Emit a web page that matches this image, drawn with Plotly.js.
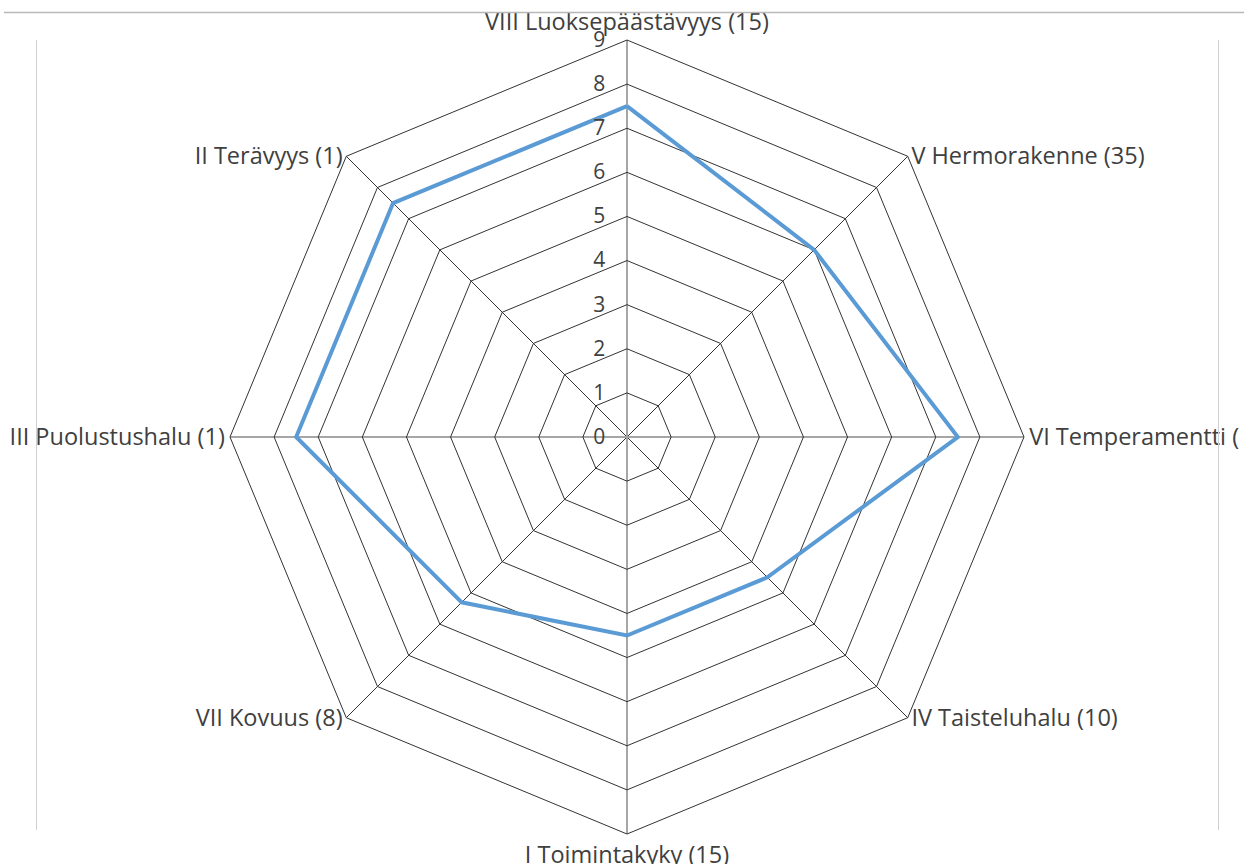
<!DOCTYPE html>
<html><head><meta charset="utf-8">
<script src="https://cdn.plot.ly/plotly-3.0.1.min.js"></script>
<style>html,body{margin:0;padding:0;background:#fff}#chart{width:1244px;height:864px}</style>
</head><body><div id="chart"></div>
<script>
// Categories in clockwise order starting from the top
const categories = [
  "VIII Luoksepäästävyys (15)",
  "V Hermorakenne (35)",
  "VI Temperamentti (",
  "IV Taisteluhalu (10)",
  "I Toimintakyky (15)",
  "VII Kovuus (8)",
  "III Puolustushalu (1)",
  "II Terävyys (1)"
];
const values = [7.5, 6, 7.5, 4.5, 4.5, 5.3, 7.5, 7.5];
const radialTicks = [0, 1, 2, 3, 4, 5, 6, 7, 8, 9];
const radialMax = 9;
const diagonalSpokes = [45, 135, 225, 315];
const axisSpokes = [0, 90, 180, 270];

const W = 1244, H = 864;
const px = x => x / W;
const py = y => 1 - y / H;
const domain = {x: [px(230), px(1024)], y: [py(834), py(40)]};

// line breaks only nudge the diagonal labels so they sit centred on their vertex
const labelPad = {1: ["<br><br>", ""], 7: ["<br><br>", ""], 3: ["", "<br><br><br><br>"], 5: ["", "<br><br><br><br>"]};
const angularText = categories.map((c, i) => labelPad[i] ? labelPad[i][0] + c + labelPad[i][1] : c);

const trace = {
  type: "scatterpolar",
  subplot: "polar3",
  mode: "lines",
  r: values.concat([values[0]]),
  theta: categories.concat([categories[0]]),
  line: {color: "#5B9BD5", width: 4},
  hoverinfo: "skip",
  showlegend: false
};

function spokePolar(vals, color, width) {
  return {
    domain: domain,
    bgcolor: "rgba(0,0,0,0)",
    angularaxis: {
      type: "linear", thetaunit: "degrees",
      tickvals: vals, showticklabels: false, ticks: "",
      showline: false, showgrid: true, gridcolor: color, gridwidth: width
    },
    radialaxis: {range: [0, radialMax], showgrid: false, showline: false,
                 showticklabels: false, ticks: ""}
  };
}

// empty helper traces so the spoke subplots get drawn
const spokeTrace1 = {type: "scatterpolar", subplot: "polar", r: [], theta: [], hoverinfo: "skip", showlegend: false};
const spokeTrace2 = {type: "scatterpolar", subplot: "polar2", r: [], theta: [], hoverinfo: "skip", showlegend: false};

const layout = {
  width: W, height: H,
  margin: {l: 0, r: 0, t: 0, b: 0},
  paper_bgcolor: "#fff",
  font: {family: "'Open Sans', sans-serif", color: "#404040", size: 23},
  polar: spokePolar(diagonalSpokes, "#333333", 1),
  polar2: spokePolar(axisSpokes, "#a6a6a6", 2),
  polar3: {
    domain: domain,
    gridshape: "linear",
    bgcolor: "rgba(0,0,0,0)",
    angularaxis: {
      direction: "clockwise",
      rotation: 90,
      showline: true,
      linecolor: "#333333",
      linewidth: 1,
      showgrid: false,
      ticks: "",
      tickvals: categories,
      ticktext: angularText,
      tickfont: {size: 23.5, color: "#404040"}
    },
    radialaxis: {
      range: [0, radialMax],
      tickvals: radialTicks,
      ticktext: radialTicks.map(String),
      angle: 90,
      tickangle: 90,
      side: "counterclockwise",
      showline: false,
      ticks: "outside",
      ticklen: 14,
      tickcolor: "rgba(0,0,0,0)",
      gridcolor: "#333333",
      gridwidth: 1,
      tickfont: {size: 21, color: "#404040"}
    }
  },
  shapes: [
    {type: "rect", xref: "paper", yref: "paper", x0: 0, x1: 1, y0: py(12), y1: 1.05,
     fillcolor: "#fff", line: {width: 0}, layer: "above"},
    {type: "line", xref: "paper", yref: "paper", x0: px(4), x1: 1.01, y0: py(12.5), y1: py(12.5),
     line: {color: "#b8b8b8", width: 1.5}, layer: "above"},
    {type: "line", xref: "paper", yref: "paper", x0: px(36.5), x1: px(36.5), y0: py(40), y1: py(830),
     line: {color: "#d0d0d0", width: 1}, layer: "above"},
    {type: "line", xref: "paper", yref: "paper", x0: px(1218.5), x1: px(1218.5), y0: py(40), y1: py(830),
     line: {color: "#d0d0d0", width: 1}, layer: "above"}
  ]
};

Plotly.newPlot("chart", [spokeTrace1, spokeTrace2, trace], layout, {staticPlot: true, displayModeBar: false});
</script>
</body></html>
